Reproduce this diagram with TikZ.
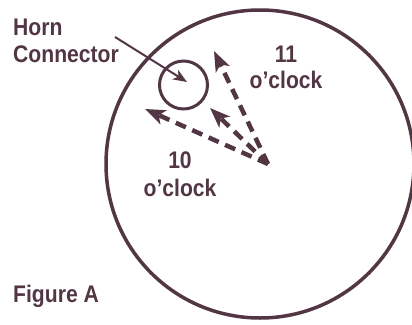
\documentclass[tikz,border=0pt]{standalone}
\usepackage{fontspec}
\setmainfont[FakeStretch=0.88]{Liberation Sans}
\usetikzlibrary{arrows.meta}
\definecolor{ink}{RGB}{82,54,68}
\begin{document}
\begin{tikzpicture}[x=1pt,y=-1pt,
  lbl/.style={font=\fontsize{24}{28}\selectfont\bfseries, text=ink, inner sep=0pt},
  dial/.style={circle, draw=ink, line width=3.5pt, inner sep=0pt},
  pointer/.style={draw=ink, line width=2pt, -{Stealth[length=14pt,width=11pt,inset=4pt]}},
  dirarrow/.style={draw=ink, line width=4.5pt, dash pattern=on 11pt off 7pt, -{Stealth[length=20pt,width=15pt,inset=5pt]}}]
\useasboundingbox (0,0) rectangle (412,324);
\fill[white] (0,0) rectangle (412,324);
\node[dial, minimum size=308pt] (face) at (260,164) {};
\node[dial, line width=3pt, minimum size=48pt] (horn) at (183.5,85) {};
\coordinate (hornstart) at (115,37);
\coordinate (hornpt) at (187,82);
\draw[pointer] (hornstart) -- (hornpt);
\coordinate (origin) at (268,164);
\coordinate (t11) at (214,51);
\coordinate (tmid) at (210,108);
\coordinate (t10) at (145,109);
\draw[dirarrow] (origin) -- (t11);
\draw[dirarrow] (origin) -- (tmid);
\draw[dirarrow] (origin) -- (t10);
\node[lbl, anchor=base west] (hornA) at (13,35) {Horn};
\node[lbl, anchor=base west] (hornB) at (13,62) {Connector};
\node[lbl, anchor=base] (elevenA) at (286,62) {11};
\node[lbl, anchor=base] (elevenB) at (286,88) {o’clock};
\node[lbl, anchor=base] (tenA) at (180,168) {10};
\node[lbl, anchor=base] (tenB) at (180,196) {o’clock};
\node[lbl, anchor=base west] (fig) at (13,302) {Figure A};
\end{tikzpicture}
\end{document}
